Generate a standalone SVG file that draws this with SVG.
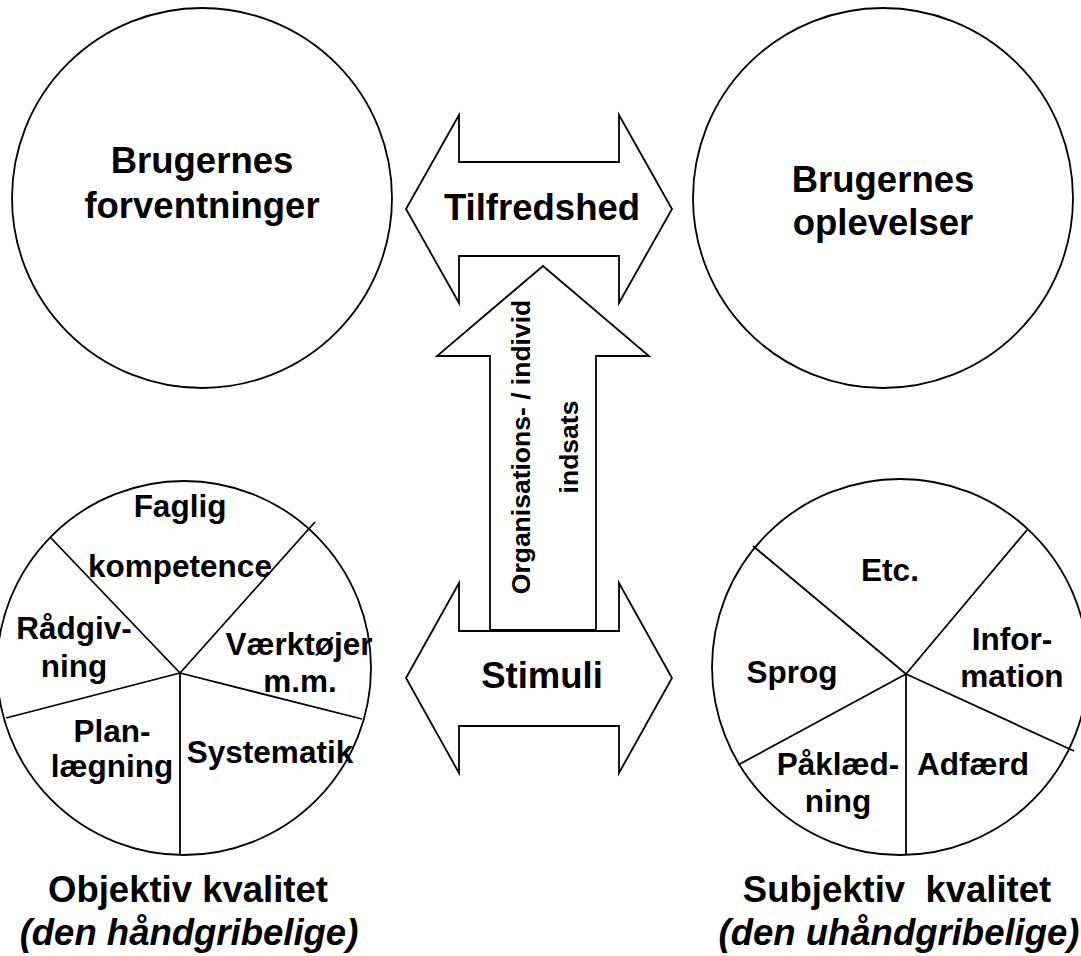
<svg xmlns="http://www.w3.org/2000/svg" width="1081" height="956" viewBox="0 0 1081 956">
<style>
.shape{fill:#fff;stroke:#000;stroke-width:1.8}
.ln{fill:none;stroke:#000;stroke-width:1.8}
.big{font-family:"Liberation Sans",Arial,sans-serif;font-weight:bold;font-size:36.5px;text-anchor:middle;fill:#000}
.lab{font-family:"Liberation Sans",Arial,sans-serif;font-weight:bold;font-size:31.5px;text-anchor:middle;fill:#000}
.vert{font-family:"Liberation Sans",Arial,sans-serif;font-weight:bold;font-size:26.5px;text-anchor:middle;fill:#000}
.it{font-style:italic}
</style>
<rect width="1081" height="956" fill="#fff"/>
<g id="forventninger">
<circle class="shape" cx="202" cy="198" r="190"/>
<text class="big" x="202" y="173">Brugernes</text>
<text class="big" x="202" y="218">forventninger</text>
</g>
<g id="oplevelser">
<circle class="shape" cx="883" cy="198" r="190"/>
<text class="big" x="883" y="192">Brugernes</text>
<text class="big" x="883" y="235">oplevelser</text>
</g>
<g id="connectors">
<g id="tilfredshed">
<path class="shape" d="M406,209 L459,115 L459,162 L619,162 L619,115 L672,209 L619,303 L619,256 L459,256 L459,303 Z"/>
<text class="big" x="542" y="220">Tilfredshed</text>
</g>
<g id="stimuli">
<path class="shape" d="M406,678 L459,583 L459,631 L619,631 L619,583 L672,678 L619,773 L619,726 L459,726 L459,773 Z"/>
<text class="big" x="542" y="688">Stimuli</text>
</g>
<g id="indsats">
<path class="shape" d="M543,266 L649,356 L596,356 L596,630 L490,630 L490,356 L437,356 Z"/>
<text class="vert" transform="translate(530,447) rotate(-90)">Organisations- / individ</text>
<text class="vert" transform="translate(578,447) rotate(-90)">indsats</text>
</g>
</g>
<g id="objektiv">
<circle class="shape" cx="184" cy="668" r="187"/>
<path class="ln" d="M180,673 L50,537 M180,673 L315,522 M180,673 L362,719 M180,673 L180,855 M180,673 L6,718"/>
<text class="lab" x="180" y="517">Faglig</text>
<text class="lab" x="180" y="577">kompetence</text>
<text class="lab" x="74" y="639">Rådgiv-</text>
<text class="lab" x="74" y="677">ning</text>
<text class="lab" x="299" y="655">Værktøjer</text>
<text class="lab" x="300" y="692">m.m.</text>
<text class="lab" x="112" y="742">Plan-</text>
<text class="lab" x="112" y="777">lægning</text>
<text class="lab" x="270" y="763">Systematik</text>
<text class="big" x="188" y="902">Objektiv kvalitet</text>
<text class="big it" x="189" y="945">(den håndgribelige)</text>
</g>
<g id="subjektiv">
<circle class="shape" cx="900" cy="667" r="188"/>
<path class="ln" d="M906,674 L753,546 M906,674 L1027,530 M906,674 L1074,751 M906,674 L906,855 M906,674 L738,765"/>
<text class="lab" x="890" y="581">Etc.</text>
<text class="lab" x="1012" y="650">Infor-</text>
<text class="lab" x="1012" y="687">mation</text>
<text class="lab" x="792" y="683">Sprog</text>
<text class="lab" x="838" y="775">Påklæd-</text>
<text class="lab" x="838" y="812">ning</text>
<text class="lab" x="973" y="775">Adfærd</text>
<text class="big" x="897" y="902" xml:space="preserve">Subjektiv  kvalitet</text>
<text class="big it" x="899" y="945">(den uhåndgribelige)</text>
</g>
</svg>
